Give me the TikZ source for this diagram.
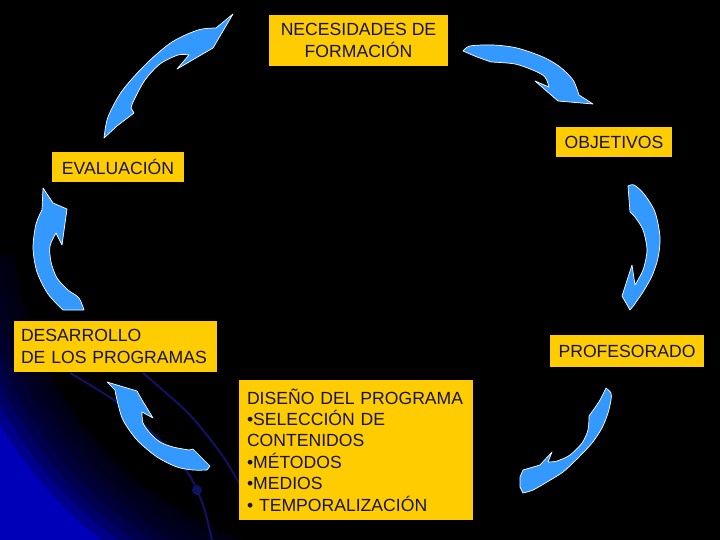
\documentclass[tikz,border=0pt]{standalone}
\usepackage{fontspec}
\setmainfont{Liberation Sans}
\definecolor{boxyellow}{RGB}{255,204,0}
\definecolor{navy}{RGB}{22,20,62}
\definecolor{arrowblue}{RGB}{51,153,255}
\definecolor{cornerblue}{RGB}{0,0,185}
\definecolor{orbitblue}{RGB}{18,18,100}
\pgfdeclareradialshading{cornerglow}{\pgfpoint{0bp}{0bp}}{color(0bp)=(cornerblue); color(10bp)=(cornerblue); color(50bp)=(black)}
\tikzset{
  box/.style={fill=boxyellow, text=navy, font=\fontsize{17.6}{21.4}\selectfont, inner sep=0pt, outer sep=0pt},
  arrowshape/.style={fill=arrowblue, draw=white, line width=0.7pt, line join=round},
  orbit/.style={draw=orbitblue, line width=2pt},
  ring/.style={fill=black, fill opacity=0.25, draw=none}
}
\begin{document}
\begin{tikzpicture}[x=1pt, y=-1pt]
\useasboundingbox (0,0) rectangle (720,540);
% background
\fill[black] (0,0) rectangle (720,540);
\begin{scope}
  \clip (0,0) rectangle (720,540);
  \shade[shading=cornerglow] (0,540) circle (285);
  \foreach \r in {405,395,...,345} { \fill[ring] (350,220) circle (\r); }
  \fill[black] (350,220) circle (337);
  % orbit lines
  \draw[orbit] plot[smooth] coordinates {(70,373) (115,401) (158,438) (188,473) (203,505) (212,540)};
  \draw[orbit] plot[smooth] coordinates {(143,373) (189,414) (222,455) (242,488)};
  \fill[orbitblue] (197,490) circle (5);
\end{scope}

% arrows
\filldraw[arrowshape] (104,138) -- plot[smooth] coordinates {(104,138) (108,117) (122,91) (146,64) (172,42) (198,30) (216,28)}
  -- (233,14) -- (213,48) -- (177,69) -- (189,55)
  -- plot[smooth] coordinates {(189,55) (178,55) (160,64) (145,80) (134,100) (131,108)}
  -- (134,113) -- (117,126) -- cycle;

\filldraw[arrowshape] (463,51) -- plot[smooth] coordinates {(463,51) (470,46) (493,45) (517,48) (543,57) (560,67) (573,80) (579,95)}
  -- (593,104) -- (558,101) -- (535,81) -- (549,87)
  -- plot[smooth] coordinates {(549,87) (545,77) (535,71) (515,64) (491,62)}
  -- (477,57) -- cycle;

\filldraw[arrowshape] (628,186) -- plot[smooth] coordinates {(628,186) (634,185) (644,194) (655,212) (660,237) (658,258) (652,276) (643,292) (634,305)}
  -- (630,310) -- (622,296) -- (632,265) -- (635,285)
  -- plot[smooth] coordinates {(635,285) (643,270) (647,250) (643,230) (635,217) (630,212)}
  -- cycle;

\filldraw[arrowshape] (43,188) -- (53,203) -- (67,209) -- (62,245) -- (56,233)
  -- plot[smooth] coordinates {(56,233) (50,246) (51,262) (57,278) (68,290) (79,298) (84,310)}
  -- (63,310)
  -- plot[smooth] coordinates {(63,310) (48,294) (37,272) (33,248) (36,224) (42,210)}
  -- cycle;

\filldraw[arrowshape] (107,382) -- (137,391) -- (142,400) -- (153,418) -- (142,412)
  -- plot[smooth] coordinates {(142,412) (143,423) (150,433) (160,442) (173,447) (189,450)}
  -- (193,449) -- (210,466) -- (207,470)
  -- plot[smooth] coordinates {(207,470) (193,470) (177,467) (157,457) (137,440) (123,420) (117,400) (115,390)}
  -- cycle;

\filldraw[arrowshape] (606,388) -- plot[smooth] coordinates {(606,388) (611,393) (611,400) (608,413) (602,428) (592,443) (578,458) (563,472) (547,482) (533,490) (523,493)}
  -- (520,487) -- (520,477) -- (523,470) -- (540,465) -- (552,452) -- (548,462)
  -- plot[smooth] coordinates {(548,462) (557,461) (570,455) (582,443) (588,430) (589,416)}
  -- (594,409)
  -- plot[smooth] coordinates {(594,409) (600,400) (606,388)}
  -- cycle;

% boxes
\node[box, minimum width=179pt, minimum height=51pt, align=center] (nec) at (358.5,40.5) {NECESIDADES DE\\FORMACIÓN};
\node[box, minimum width=116pt, minimum height=30pt] (obj) at (614,142) {OBJETIVOS};
\node[box, minimum width=132pt, minimum height=30pt] (eval) at (118,167) {EVALUACIÓN};
\node[box, minimum width=203pt, minimum height=51pt, text width=189pt, align=left] (des) at (115.5,346.5) {DESARROLLO\\DE LOS PROGRAMAS};
\node[box, minimum width=154pt, minimum height=32pt] (prof) at (627,351) {PROFESORADO};
\node[box, minimum width=234pt, minimum height=140pt, text width=218pt, align=left] (dis) at (356,450) {DISEÑO DEL PROGRAMA\\•SELECCIÓN DE\\CONTENIDOS\\•MÉTODOS\\•MEDIOS\\• TEMPORALIZACIÓN};
\end{tikzpicture}
\end{document}
